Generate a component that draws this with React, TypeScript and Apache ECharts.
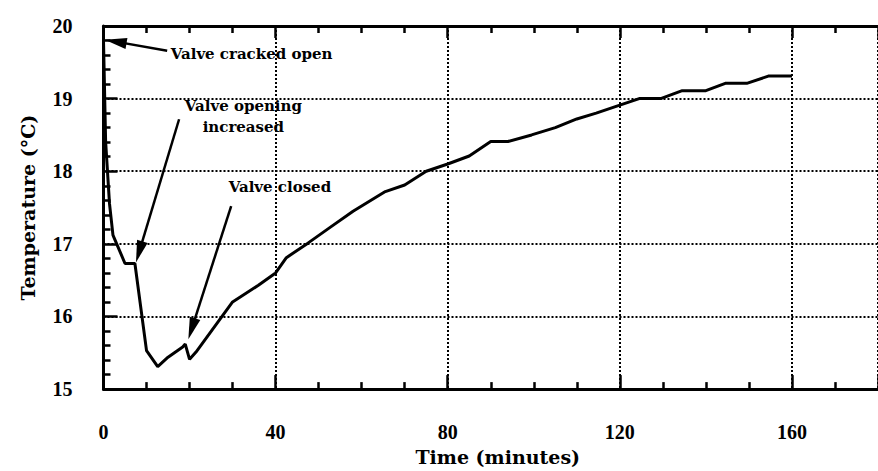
import React, { useEffect, useRef } from "react";
import * as echarts from "echarts";

// Data
const timeMinutes = [0, 0.5, 1.4, 2.2, 5, 7.3, 10, 12.6, 15, 18.4, 19, 20, 21.5, 30, 36, 40, 42.5, 47.5, 52.5, 58, 65.5, 70, 75, 80, 85, 90, 94, 99.5, 105, 110, 114.5, 120, 124.5, 129.5, 134.5, 140, 144.5, 149.5, 154.5, 160];
const temperatureC = [19.8, 18.4, 17.55, 17.12, 16.73, 16.73, 15.53, 15.31, 15.44, 15.58, 15.62, 15.41, 15.51, 16.2, 16.43, 16.6, 16.81, 17.01, 17.22, 17.45, 17.72, 17.81, 18.0, 18.1, 18.21, 18.41, 18.41, 18.5, 18.6, 18.72, 18.8, 18.91, 19.0, 19.0, 19.11, 19.11, 19.21, 19.21, 19.31, 19.31];

const xTicks = [0, 40, 80, 120, 160];
const yTicks = [15, 16, 17, 18, 19, 20];

// Annotations (data coordinates)
const annotationTexts = ["Valve cracked open", "Valve opening\nincreased", "Valve closed"];
const annotationTextPos = [[34.4, 19.61], [32.5, 18.75], [41.0, 17.78]];
const arrowStart = [[14.8, 19.66], [17.57, 18.716], [29.67, 17.52]];
const arrowHead = [[2.82, 19.785], [8.29, 16.89], [20.5, 15.83]];

const DIGIT_FONT = "Liberation Serif";
const TEXT_FONT = "DejaVu Serif";

export default function App() {
  const ref = useRef<HTMLDivElement>(null);
  useEffect(() => {
    if (!ref.current) return;
    const chart = echarts.init(ref.current, undefined, { renderer: "svg" });
    const axisLineStyle = { color: "#000", width: 3 };
    const labelStyle = {
      fontFamily: DIGIT_FONT,
      fontWeight: "bold" as const,
      fontSize: 20,
      color: "#000",
    };
    const nameStyle = {
      fontFamily: TEXT_FONT,
      fontWeight: "bold" as const,
      fontSize: 19,
      color: "#000",
    };
    const gridLine = { show: true, lineStyle: { color: "#000", width: 2, type: [2, 2] as any } };
    const mkTick = (len: number) => ({ show: true, inside: true, length: len, lineStyle: { color: "#000", width: 2.5 } });
    const mkMinor = (n: number) => ({ show: true, splitNumber: n, length: 7, lineStyle: { color: "#000", width: 2.5 } });
    chart.setOption({
      animation: false,
      backgroundColor: "#fff",
      grid: { left: 103.5, top: 26, bottom: 75, right: -9.4, containLabel: false },
      xAxis: [
        {
          type: "value",
          min: xTicks[0],
          max: 180,
          interval: 40,
          position: "bottom",
          axisLine: { show: true, onZero: false, lineStyle: axisLineStyle },
          axisTick: mkTick(14),
          minorTick: mkMinor(4),
          splitLine: gridLine,
          axisLabel: { ...labelStyle, margin: 33, showMaxLabel: false },
          name: "Time (minutes)",
          nameLocation: "middle",
          nameGap: 52,
          nameTextStyle: { ...nameStyle, padding: [0, 0, 0, 14] },
        },
        {
          type: "value",
          min: xTicks[0],
          max: 180,
          interval: 40,
          position: "top",
          axisLine: { show: true, onZero: false, lineStyle: axisLineStyle },
          axisTick: mkTick(12),
          minorTick: mkMinor(4),
          splitLine: { show: false },
          axisLabel: { show: false },
        },
      ],
      yAxis: {
        type: "value",
        min: yTicks[0],
        max: yTicks[yTicks.length - 1],
        interval: 1,
        axisLine: { show: true, onZero: false, lineStyle: axisLineStyle },
        axisTick: mkTick(14),
        minorTick: mkMinor(5),
        splitLine: gridLine,
        axisLabel: { ...labelStyle, margin: 31 },
        name: "Temperature (°C)",
        nameLocation: "middle",
        nameGap: 66,
        nameTextStyle: nameStyle,
      },
      series: [
        {
          type: "line",
          xAxisIndex: 0,
          data: timeMinutes.map((t, i) => [t, temperatureC[i]]),
          symbol: "none",
          lineStyle: { color: "#000", width: 3 },
          clip: false,
          markLine: {
            silent: true,
            symbol: ["none", "triangle"],
            symbolSize: [11, 22],
            lineStyle: { color: "#000", width: 2.5, type: "solid" },
            label: { show: false },
            data: arrowStart.map((s, i) => [
              { coord: s },
              { coord: arrowHead[i] },
            ]),
          },
          markPoint: {
            silent: true,
            symbol: "circle",
            symbolSize: 0,
            data: annotationTexts.map((txt, i) => ({
              coord: annotationTextPos[i],
              label: {
                show: true,
                position: "inside",
                formatter: txt,
                fontFamily: TEXT_FONT,
                fontWeight: "bold",
                fontSize: 15,
                color: "#000",
                lineHeight: 21,
                align: "center",
              },
            })),
          },
        },
      ],
    });
    return () => chart.dispose();
  }, []);
  return <div ref={ref} style={{ width: 878, height: 471, position: "absolute", left: 0, top: 0 }} />;
}
